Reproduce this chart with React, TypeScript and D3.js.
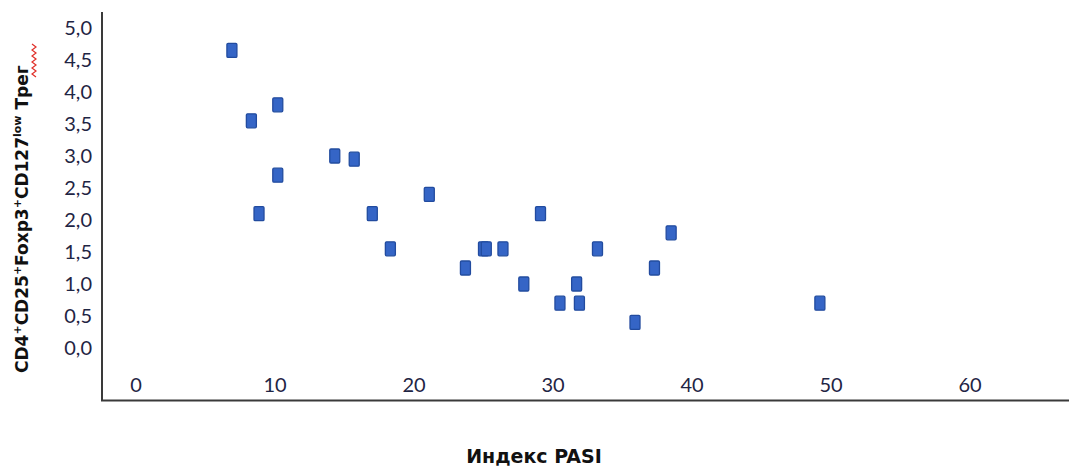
import React from "react";
import * as d3 from "d3";

// PASI index vs. share of regulatory T cells
const pasi = [6.9, 8.3, 8.85, 10.2, 10.2, 14.3, 15.7, 17.0, 18.3, 21.1, 23.7, 25.0, 25.2, 26.4, 27.9, 29.1, 30.5, 31.7, 31.9, 33.2, 35.9, 37.3, 38.5, 49.2];
const treg = [4.65, 3.55, 2.1, 3.8, 2.7, 3.0, 2.95, 2.1, 1.55, 2.4, 1.25, 1.55, 1.55, 1.55, 1.0, 2.1, 0.7, 1.0, 0.7, 1.55, 0.4, 1.25, 1.8, 0.7];

const xTicks = [0, 10, 20, 30, 40, 50, 60];
const yTicks = [0, 0.5, 1, 1.5, 2, 2.5, 3, 3.5, 4, 4.5, 5];

const W = 1069;
const H = 470;

const x = d3.scaleLinear().domain([10, 60]).range([275, 970]);
const y = d3.scaleLinear().domain([0, 5]).range([348, 28]);
const fmtY = (v: number) => d3.format(".1f")(v).replace(".", ",");

const labelFont = "Lato, 'Open Sans', sans-serif";
const titleFont = "'DejaVu Sans', Verdana, sans-serif";
const tickColor = "#1f2544";

export default function App() {
  const axisLeft = 102;
  const axisBottom = 400.5;
  const points = pasi.map((p, i) => ({ p, t: treg[i] }));
  // spell-check squiggle beside the rotated title
  const squiggle = d3.range(0, 12).map((k) => [k % 2 === 0 ? 32 : 36, 44 + k * 3] as [number, number]);

  return (
    <svg width={W} height={H} style={{ position: "absolute", left: 0, top: 0, background: "#fff" }}>
      <defs>
        <filter id="soft" x="-50%" y="-50%" width="200%" height="200%">
          <feGaussianBlur stdDeviation="0.45" />
        </filter>
      </defs>

      {/* axes */}
      <line x1={axisLeft} x2={axisLeft} y1={12} y2={axisBottom} stroke="#3a3a3a" strokeWidth={2} />
      <line x1={axisLeft - 1} x2={W} y1={axisBottom} y2={axisBottom} stroke="#3a3a3a" strokeWidth={2.2} />

      {/* y tick labels */}
      {yTicks.map((v) => (
        <text key={v} x={92} y={y(v)} dy="0.36em" textAnchor="end" fontFamily={labelFont} fontSize={20} fill={tickColor}>
          {fmtY(v)}
        </text>
      ))}

      {/* x tick labels */}
      {xTicks.map((v) => (
        <text key={v} x={x(v)} y={392} textAnchor="middle" fontFamily={labelFont} fontSize={20} fill={tickColor}>
          {v}
        </text>
      ))}

      {/* points */}
      <g filter="url(#soft)">
        {points.map((d, i) => (
          <rect key={i} x={x(d.p) - 5} y={y(d.t) - 7} width={10} height={14} rx={1.2}
            fill="#3565c6" stroke="#234c9f" strokeWidth={1.3} />
        ))}
      </g>

      {/* axis titles */}
      <text x={534} y={463} textAnchor="middle" fontFamily={titleFont} fontWeight="bold" fontSize={19} fill="#111">
        Индекс PASI
      </text>
      <text transform="translate(28,373) rotate(-90)" textAnchor="start" fontFamily={titleFont} fontWeight="bold" fontSize={17} fill="#111">
        CD4<tspan fontSize={11} dy={-7}>+</tspan>
        <tspan dy={7}>CD25</tspan><tspan fontSize={11} dy={-7}>+</tspan>
        <tspan dy={7}>Foxp3</tspan><tspan fontSize={11} dy={-7}>+</tspan>
        <tspan dy={7}>CD127</tspan><tspan fontSize={11} dy={-7}>low</tspan>
        <tspan dy={7}> Трег</tspan>
      </text>
      <path d={d3.line()(squiggle) ?? ""} fill="none" stroke="#e0302a" strokeWidth={1.2} />
    </svg>
  );
}
